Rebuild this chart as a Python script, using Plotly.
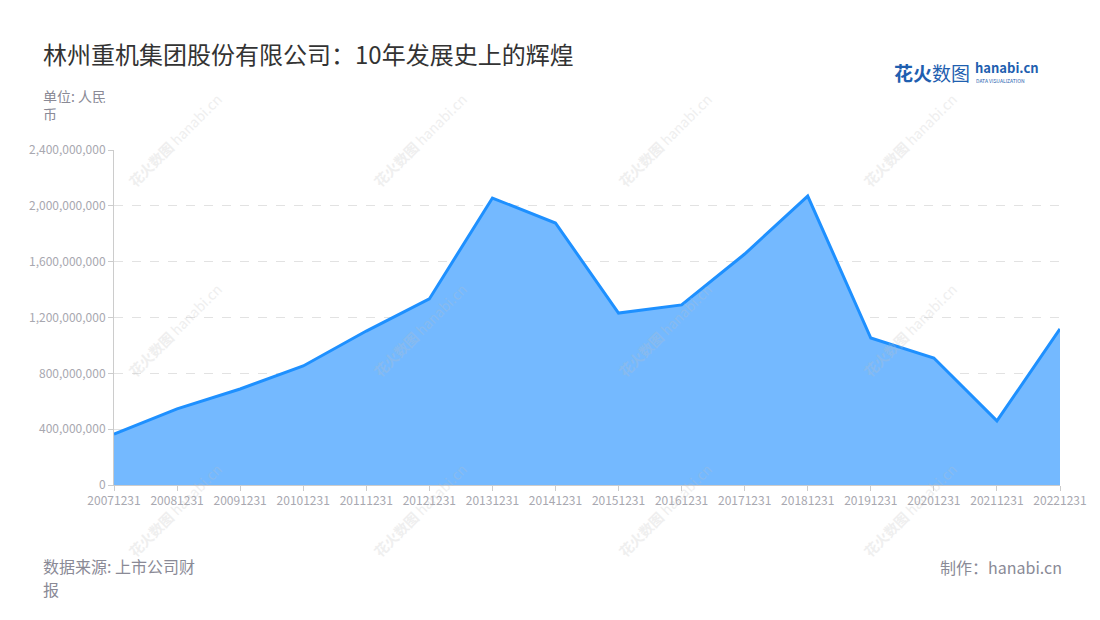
import plotly.graph_objects as go

categories = ["20071231", "20081231", "20091231", "20101231", "20111231", "20121231",
              "20131231", "20141231", "20151231", "20161231", "20171231", "20181231",
              "20191231", "20201231", "20211231", "20221231"]
values = [365e6, 545e6, 688e6, 853e6, 1103e6, 1333e6, 2056e6, 1877e6, 1232e6, 1290e6,
          1655e6, 2070e6, 1053e6, 910e6, 459e6, 1118e6]
y_ticks = [0, 400e6, 800e6, 1200e6, 1600e6, 2000e6, 2400e6]
y_tick_labels = ["0", "400,000,000", "800,000,000", "1,200,000,000", "1,600,000,000",
                 "2,000,000,000", "2,400,000,000"]

FONT = "Noto Sans CJK SC, Noto Sans, sans-serif"

fig = go.Figure()
fig.add_trace(go.Scatter(
    x=categories, y=values, mode="lines", fill="tozeroy",
    line=dict(color="#1e90ff", width=3),
    fillcolor="rgba(116,185,255,1)",
    hoverinfo="x+y",
))

fig.update_layout(
    width=1100, height=620,
    paper_bgcolor="white", plot_bgcolor="white",
    margin=dict(l=106, r=48, t=142, b=143),
    showlegend=False,
    font=dict(family=FONT),
    xaxis=dict(
        type="category", range=[0, len(categories) - 1],
        showgrid=False, showline=True, linecolor="#cccccc", linewidth=1,
        ticks="outside", ticklen=5, tickcolor="#cccccc",
        tickfont=dict(size=12, color="#a8a8b0", family=FONT),
        zeroline=False,
    ),
    yaxis=dict(
        range=[0, 2.4e9], tickvals=y_ticks, ticktext=y_tick_labels,
        showgrid=True, gridcolor="#e2e2e2", griddash="dash", gridwidth=1,
        showline=True, linecolor="#cccccc", linewidth=1,
        ticks="outside", ticklen=5, tickcolor="#cccccc",
        tickfont=dict(size=12, color="#a8a8b0", family=FONT),
        zeroline=False,
    ),
)


def pix(x, y):
    # convert screen pixel coords to paper coords (plot area 114..1060, 150..485)
    return (x - 114) / (1060 - 114), (485 - y) / (485 - 150)


def add_text(ann, text, x, y, size, color, xanchor="left", **kw):
    px, py = pix(x, y)
    ann.append(dict(text=text, x=px, y=py, xref="paper", yref="paper",
                    xanchor=xanchor, yanchor="middle", showarrow=False,
                    font=dict(size=size, color=color, family=FONT), **kw))


ann = []
add_text(ann, "林州重机集团股份有限公司：10年发展史上的辉煌", 41, 54, 24, "#333333")
add_text(ann, "单位: 人民", 41, 96, 14, "#8a8a96", height=15)
add_text(ann, "币", 41, 113, 14, "#8a8a96", height=15)
add_text(ann, "数据来源: 上市公司财", 41, 566, 16, "#8a8a96", height=18)
add_text(ann, "报", 41, 589, 16, "#8a8a96", height=18)
add_text(ann, "制作：hanabi.cn", 1064, 567, 16, "#8a8a96", xanchor="right")
# logo
add_text(ann, "<b>花火</b>数图", 892, 72, 19, "#1f5fb0")
add_text(ann, "<b>hanabi.cn</b>", 973, 67, 13, "#1f5fb0")
add_text(ann, "DATA VISUALIZATION", 974, 80, 5, "#1f5fb0")
# watermarks
for wx in [175, 420, 665, 910]:
    for wy in [140, 330, 510]:
        add_text(ann, "<b>花火数图</b> hanabi.cn", wx, wy, 14, "#c0c0c0", xanchor="center",
                 textangle=-45, opacity=0.25)
fig.update_layout(annotations=ann)

fig.write_html("out.html")
